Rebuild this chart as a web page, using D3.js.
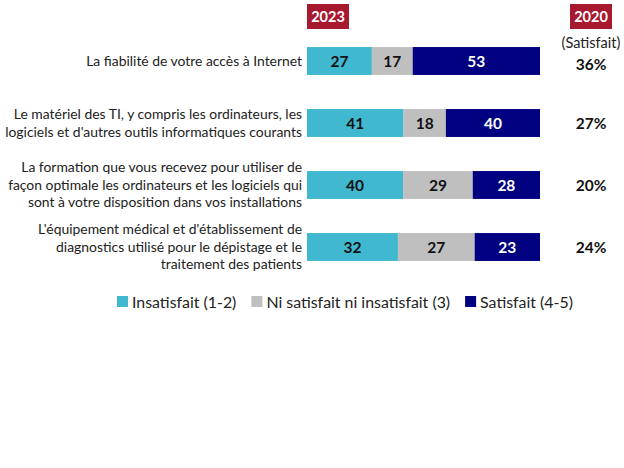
<!DOCTYPE html>
<html><head><meta charset="utf-8">
<script src="https://cdn.jsdelivr.net/npm/d3@7"></script>
<style>body{margin:0;background:#fff}svg{display:block}</style>
</head><body>
<svg id="c" width="624" height="468"></svg>
<script>
const categories = [
  ["La fiabilité de votre accès à Internet"],
  ["Le matériel des TI, y compris les ordinateurs, les","logiciels et d'autres outils informatiques courants"],
  ["La formation que vous recevez pour utiliser de","façon optimale les ordinateurs et les logiciels qui","sont à votre disposition dans vos installations"],
  ["L'équipement médical et d'établissement de","diagnostics utilisé pour le dépistage et le","traitement des patients"]
];
const insatisfait = [27, 41, 40, 32];
const neutre = [17, 18, 29, 27];
const satisfait = [53, 40, 28, 23];
const satisfait2020 = ["36%", "27%", "20%", "24%"];
const seriesNames = ["Insatisfait (1-2)", "Ni satisfait ni insatisfait (3)", "Satisfait (4-5)"];
const seriesColors = ["#3FB8D0", "#BFBFBF", "#000080"];
const labelColors = ["#111", "#111", "#fff"];

const font = "Lato, 'Open Sans', sans-serif";
const svg = d3.select("#c");
const keys = ["a","b","c"];
const rows = categories.map((c,i)=>({i, a:insatisfait[i], b:neutre[i], c:satisfait[i]}));
const stack = d3.stack().keys(keys).offset(d3.stackOffsetExpand)(rows);

const x = d3.scaleLinear().domain([0,1]).range([307,540]);
const y = d3.scaleBand().domain(d3.range(categories.length)).range([30,278]).paddingInner(0.55).paddingOuter(0.275);

stack.forEach((s,k)=>{
  const g = svg.append("g");
  g.selectAll("rect").data(s).join("rect")
    .attr("x", d=>x(d[0])).attr("width", d=>x(d[1])-x(d[0]))
    .attr("y", (d,i)=>y(i)).attr("height", y.bandwidth())
    .attr("fill", seriesColors[k]);
  g.selectAll("text").data(s).join("text")
    .attr("x", d=>(x(d[0])+x(d[1]))/2).attr("y", (d,i)=>y(i)+y.bandwidth()/2)
    .attr("dy","0.36em").attr("text-anchor","middle")
    .attr("font-family", font).attr("font-weight","bold").attr("font-size",15.5)
    .attr("fill", labelColors[k])
    .text(d=>d.data[keys[k]]);
});

// category labels
categories.forEach((lines,i)=>{
  const cy = y(i)+y.bandwidth()/2;
  const lh = 17.5;
  const t = svg.append("text").attr("text-anchor","end")
    .attr("font-family", font).attr("font-size",13.9).attr("fill","#222");
  lines.forEach((l,j)=>{
    t.append("tspan").attr("x",302).attr("y", cy + (j-(lines.length-1)/2)*lh).attr("dy","0.35em").text(l);
  });
});

// header boxes
function yearBox(cx, label){
  svg.append("rect").attr("x",cx-21).attr("y",4).attr("width",42).attr("height",25).attr("fill","#A6192E");
  svg.append("text").attr("x",cx).attr("y",16.5).attr("dy","0.36em").attr("text-anchor","middle")
    .attr("font-family",font).attr("font-weight","bold").attr("font-size",14.5).attr("fill","#fff").text(label);
}
yearBox(328,"2023");
yearBox(591,"2020");
svg.append("text").attr("x",591).attr("y",43).attr("dy","0.36em").attr("text-anchor","middle")
  .attr("font-family",font).attr("font-size",14.5).attr("fill","#222").text("(Satisfait)");
svg.selectAll("text.p20").data(satisfait2020).join("text").attr("class","p20")
  .attr("x",591).attr("y",(d,i)=>y(i)+y.bandwidth()/2+ (i===0?3:0)).attr("dy","0.36em").attr("text-anchor","middle")
  .attr("font-family",font).attr("font-weight","bold").attr("font-size",15.5).attr("fill","#111").text(d=>d);

// legend
const leg = svg.append("g");
let lx = 117;
seriesNames.forEach((n,k)=>{
  leg.append("rect").attr("x",lx).attr("y",296).attr("width",11).attr("height",11).attr("fill",seriesColors[k]);
  const t = leg.append("text").attr("x",lx+15).attr("y",302).attr("dy","0.36em")
    .attr("font-family",font).attr("font-size",15.9).attr("fill","#222").text(n);
  lx += 15 + t.node().getComputedTextLength() + 15;
});
</script>
</body></html>
